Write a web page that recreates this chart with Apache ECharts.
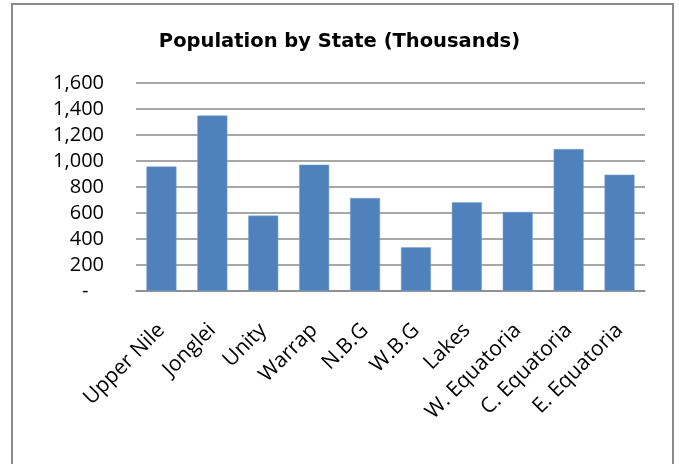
<!DOCTYPE html>
<html>
<head>
<meta charset="utf-8">
<script src="https://cdn.jsdelivr.net/npm/echarts@6/dist/echarts.min.js"></script>
<style>
  html, body { margin:0; padding:0; background:#fff; }
  #chart { width:679px; height:464px; }
</style>
</head>
<body>
<div id="chart"></div>
<script>
  var states = ['Upper Nile', 'Jonglei', 'Unity', 'Warrap', 'N.B.G', 'W.B.G', 'Lakes', 'W. Equatoria', 'C. Equatoria', 'E. Equatoria'];
  var population = [958, 1350, 580, 972, 715, 336, 683, 608, 1092, 895];

  var chart = echarts.init(document.getElementById('chart'));
  chart.setOption({
    animation: false,
    title: {
      text: 'Population by State (Thousands)',
      left: 'center',
      top: 27,
      textStyle: { fontFamily: 'DejaVu Sans', fontWeight: 'bold', fontSize: 19.5, color: '#000' }
    },
    graphic: [{
      type: 'rect',
      shape: { x: 12, y: 4, width: 661, height: 480 },
      style: { fill: 'none', stroke: '#8a8a8a', lineWidth: 2 }
    }],
    grid: { left: 136, right: 34, top: 83, bottom: 173 },
    xAxis: {
      type: 'category',
      data: states,
      axisLine: { lineStyle: { color: '#8a8a8a', width: 1.5 } },
      axisTick: { show: false },
      axisLabel: {
        rotate: 45,
        interval: 0,
        margin: 36,
        fontFamily: 'Open Sans',
        fontSize: 21,
        color: '#000'
      }
    },
    yAxis: {
      type: 'value',
      min: 0,
      max: 1600,
      interval: 200,
      axisLine: { show: false },
      axisTick: { show: false },
      splitLine: { lineStyle: { color: '#8a8a8a', width: 1.5 } },
      axisLabel: {
        margin: 32,
        fontFamily: 'Open Sans',
        fontSize: 20,
        color: '#000',
        formatter: function (v) {
          return v === 0 ? '-   ' : v.toLocaleString('en-US');
        }
      }
    },
    series: [{
      type: 'bar',
      data: population,
      barWidth: '59%',
      itemStyle: { color: '#4f81bd', borderColor: '#7fa6d4', borderWidth: 0.5 }
    }]
  });
</script>
</body>
</html>
